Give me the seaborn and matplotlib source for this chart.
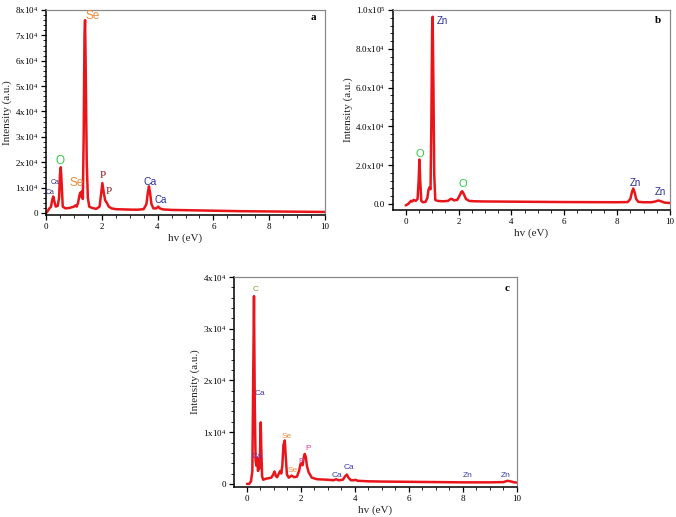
import numpy as np
import pandas as pd
import matplotlib
matplotlib.use("Agg")
import matplotlib.pyplot as plt
import seaborn as sns
from matplotlib.ticker import AutoMinorLocator, FixedLocator, FixedFormatter

# ---------------- data ----------------
energy_a = [0, 0.05, 0.1, 0.18, 0.22, 0.26, 0.30, 0.35, 0.42, 0.47, 0.50, 0.53, 0.56, 0.60, 0.7,
            0.85, 1.0, 1.05, 1.1, 1.15, 1.2, 1.23, 1.26, 1.29, 1.32, 1.35, 1.38, 1.40, 1.42, 1.46,
            1.50, 1.55, 1.65, 1.8, 1.92, 1.97, 2.02, 2.07, 2.12, 2.18, 2.25, 2.35, 2.5, 2.8, 3.1,
            3.3, 3.5, 3.6, 3.65, 3.69, 3.73, 3.78, 3.85, 3.95, 4.02, 4.08, 4.2, 4.5, 5, 6, 7, 8, 9, 10]
intensity_a = [0, 500, 1500, 2500, 5000, 6500, 4500, 2500, 2800, 6000, 15000, 18000, 12000, 2500, 1800,
               2000, 2500, 3000, 2500, 4000, 7000, 8000, 6500, 8500, 5500, 30000, 70000, 76000, 60000, 20000,
               6000, 2500, 2000, 1600, 2500, 7000, 11800, 8000, 5000, 4000, 2500, 1800, 1500, 1400, 1300,
               1300, 1500, 3500, 8000, 10500, 8000, 3500, 1800, 1800, 2500, 1800, 1400, 1200, 1100, 900, 700, 600, 500, 400]

energy_b = [0, 0.1, 0.2, 0.25, 0.3, 0.38, 0.45, 0.49, 0.52, 0.55, 0.59, 0.65, 0.75, 0.82, 0.86,
            0.9, 0.94, 0.97, 1.0, 1.02, 1.05, 1.08, 1.12, 1.2, 1.4, 1.6, 1.7, 1.75, 1.82, 1.95,
            2.05, 2.1, 2.14, 2.2, 2.28, 2.4, 2.6, 3, 4, 5, 6, 7, 8, 8.4, 8.5,
            8.56, 8.61, 8.66, 8.72, 8.8, 9.0, 9.3, 9.45, 9.56, 9.68, 9.8, 10]
intensity_b = [-800, 0, 1500, 1200, 2000, 1500, 2500, 12000, 22800, 12000, 1500, 800, 1000, 3000, 7000,
               8500, 7500, 40000, 90000, 96500, 60000, 15000, 2000, 1500, 1300, 1500, 2500, 2500, 1800, 2000,
               4500, 6000, 6500, 5000, 2500, 1500, 1300, 1200, 1100, 1000, 900, 850, 800, 900, 2500,
               6000, 7900, 6000, 2500, 1000, 800, 800, 1200, 1700, 1200, 600, 400]

energy_c = [0, 0.08, 0.15, 0.2, 0.23, 0.26, 0.29, 0.32, 0.35, 0.38, 0.41, 0.44, 0.47, 0.49, 0.51,
            0.53, 0.56, 0.6, 0.7, 0.8, 0.9, 0.97, 1.02, 1.07, 1.12, 1.18, 1.23, 1.27, 1.31, 1.35,
            1.40, 1.44, 1.48, 1.55, 1.65, 1.75, 1.85, 1.93, 1.98, 2.02, 2.06, 2.1, 2.14, 2.18, 2.22,
            2.28, 2.4, 2.6, 3.0, 3.2, 3.3, 3.4, 3.55, 3.64, 3.7, 3.76, 3.85, 3.95, 4.02, 4.1,
            4.5, 5, 6, 7, 8, 9, 9.5, 9.65, 9.75, 9.9, 10]
intensity_c = [0, 0, 500, 2500, 20000, 36300, 15000, 4500, 3500, 5000, 2500, 4500, 3000, 7000, 11900,
               7000, 1500, 800, 1000, 1100, 1200, 1800, 2400, 1500, 1300, 2000, 2500, 2000, 3500, 7500,
               8400, 5000, 1800, 1200, 1600, 1300, 1400, 2500, 3800, 4000, 3600, 5000, 5800, 5200, 3500,
               2300, 1200, 900, 800, 700, 900, 700, 800, 1500, 1800, 1200, 700, 700, 800, 600,
               500, 450, 400, 350, 300, 300, 350, 600, 500, 300, 250]

yticks_a = [0, 10000, 20000, 30000, 40000, 50000, 60000, 70000, 80000]
ylabels_a = ["0"] + [r"$%d\mathrm{x}10^{4}$" % k for k in range(1, 9)]
yticks_b = [0, 20000, 40000, 60000, 80000, 100000]
ylabels_b = ["0.0", r"$2.0\mathrm{x}10^{4}$", r"$4.0\mathrm{x}10^{4}$", r"$6.0\mathrm{x}10^{4}$",
             r"$8.0\mathrm{x}10^{4}$", r"$1.0\mathrm{x}10^{5}$"]
yticks_c = [0, 10000, 20000, 30000, 40000]
ylabels_c = ["0"] + [r"$%d\mathrm{x}10^{4}$" % k for k in range(1, 5)]
xticks = [0, 2, 4, 6, 8, 10]

# annotations: (text, x, y, color, size, family)
ORANGE = "#EE8A3A"
GREEN = "#2ECC40"
NAVY = "#2A2F96"
ann_a = [("Se", 1.67, 77800, ORANGE, 8.5, "sans"), ("O", 0.51, 20600, GREEN, 8.5, "sans"),
         ("Ca", 0.33, 12000, NAVY, 5, "sans"), ("Ca", 0.14, 7900, NAVY, 5, "sans"),
         ("Se", 1.09, 12000, ORANGE, 8.5, "sans"), ("P", 2.02, 14700, "#8B1A1A", 8, "serif"),
         ("P", 2.26, 8300, "#8B1A1A", 8, "serif"), ("Ca", 3.72, 12300, NAVY, 7.5, "sans"),
         ("Ca", 4.11, 5200, NAVY, 7, "sans")]
ann_b = [("Zn", 1.40, 94500, NAVY, 7, "sans"), ("O", 0.53, 25600, GREEN, 8, "sans"),
         ("O", 2.18, 10100, GREEN, 8, "sans"), ("Zn", 8.69, 10500, NAVY, 7, "sans"),
         ("Zn", 9.65, 6000, NAVY, 7, "sans")]
PINK = "#E040A8"
ann_c = [("C", 0.33, 37600, "#8A9A30", 6, "sans"), ("Ca", 0.47, 17400, "#4A3AB0", 6, "sans"),
         ("Ca", 0.37, 5200, "#6A30B0", 6, "sans"), ("Se", 1.46, 9200, ORANGE, 6, "sans"),
         ("Se", 1.69, 2600, ORANGE, 6, "sans"), ("P", 1.99, 4400, PINK, 6, "sans"),
         ("P", 2.28, 6800, PINK, 6, "sans"), ("Ca", 3.35, 1700, "#3A3AB8", 6, "sans"),
         ("Ca", 3.76, 3100, "#3A3AB8", 6, "sans"), ("Zn", 8.19, 1700, "#3A3AB8", 6, "sans"),
         ("Zn", 9.59, 1700, "#3A3AB8", 6, "sans")]

# ---------------- style ----------------
sns.set_theme(style="ticks")
plt.rcParams["font.family"] = ["Liberation Serif", "DejaVu Serif"]
plt.rcParams["mathtext.fontset"] = "custom"
plt.rcParams["mathtext.rm"] = "Liberation Serif"
plt.rcParams["mathtext.it"] = "Liberation Serif:italic"
plt.rcParams["mathtext.bf"] = "Liberation Serif:bold"

fig = plt.figure(figsize=(6.76, 5.17), dpi=100)

W, H = 676.0, 517.0
def box(l, r, t, b):
    return [l / W, 1 - b / H, (r - l) / W, (b - t) / H]

panels = [
    dict(pos=box(46, 325, 10, 215), x=energy_a, y=intensity_a, xlim=(0, 10), ylim=(-800, 80000),
         yt=yticks_a, yl=ylabels_a, ann=ann_a, tag="a", tagpos=(9.58, 77000)),
    dict(pos=box(393, 670, 10, 210), x=energy_b, y=intensity_b, xlim=(-0.48, 10), ylim=(-3200, 100000),
         yt=yticks_b, yl=ylabels_b, ann=ann_b, tag="b", tagpos=(9.56, 94500)),
    dict(pos=box(234, 517, 277, 487), x=energy_c, y=intensity_c, xlim=(-0.48, 10), ylim=(-600, 40000),
         yt=yticks_c, yl=ylabels_c, ann=ann_c, tag="c", tagpos=(9.65, 37800)),
]

for p in panels:
    assert len(p["x"]) == len(p["y"])
    ax = fig.add_axes(p["pos"])
    df = pd.DataFrame({"hv": p["x"], "I": p["y"]})
    sns.lineplot(data=df, x="hv", y="I", ax=ax, color="#E8161B", linewidth=1.8)
    ax.set_xlim(*p["xlim"])
    ax.set_ylim(*p["ylim"])
    ax.set_xticks(xticks)
    ax.set_xticklabels([str(t) for t in xticks])
    ax.yaxis.set_major_locator(FixedLocator(p["yt"]))
    ax.yaxis.set_major_formatter(FixedFormatter(p["yl"]))
    ax.xaxis.set_minor_locator(AutoMinorLocator(4))
    ax.yaxis.set_minor_locator(AutoMinorLocator(5))
    ax.tick_params(axis="both", which="major", direction="out", length=3.5, width=0.9,
                   labelsize=6.5, pad=2, colors="black")
    ax.tick_params(axis="both", which="minor", direction="out", length=2, width=0.7)
    ax.set_xlabel("hv (eV)", fontsize=8, labelpad=2)
    ax.set_ylabel("Intensity (a.u.)", fontsize=8, labelpad=2)
    for s in ["left", "bottom"]:
        ax.spines[s].set_color("black")
        ax.spines[s].set_linewidth(1.1)
    for s in ["top", "right"]:
        ax.spines[s].set_visible(True)
        ax.spines[s].set_color("#8a8a8a")
        ax.spines[s].set_linewidth(0.9)
    for txt, tx, ty, col, sz, fam in p["ann"]:
        family = ["Liberation Sans", "DejaVu Sans"] if fam == "sans" else ["Liberation Serif", "DejaVu Serif"]
        ax.text(tx, ty, txt, color=col, fontsize=sz, family=family, ha="center", va="center")
    ax.text(p["tagpos"][0], p["tagpos"][1], p["tag"], fontsize=8, fontweight="bold",
            ha="center", va="center", color="black")

fig.savefig("out.png", dpi=100)
